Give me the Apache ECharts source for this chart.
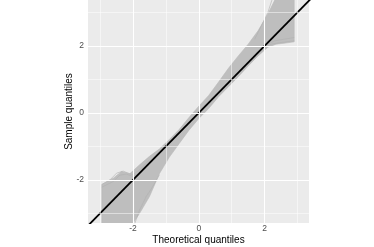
<!DOCTYPE html>
<html>
<head>
<meta charset="utf-8">
<script src="https://cdn.jsdelivr.net/npm/echarts@6/dist/echarts.min.js"></script>
<style>
html, body { margin: 0; padding: 0; background: #fff; }
#main { width: 374px; height: 247px; }
</style>
</head>
<body>
<div id="main"></div>
<script>
var myChart = echarts.init(document.getElementById('main'));

// envelope of the simulated QQ curves
var bandX     = [-2.95, -2.6, -2.35, -2.1, -1.8, -1.5, -1.2, -0.9, -0.6, -0.3, 0, 0.3, 0.6, 0.9, 1.2, 1.5, 1.8, 2.1, 2.35, 2.6, 2.9];
var bandUpper = [-2.14, -1.95, -1.75, -1.82, -1.55, -1.3, -1.08, -0.8, -0.5, -0.14, 0.2, 0.52, 0.92, 1.33, 1.7, 2.05, 2.45, 2.95, 3.45, 3.45, 3.45];
var bandLower = [-3.45, -3.45, -3.45, -3.45, -3.0, -2.5, -1.82, -1.33, -0.92, -0.52, -0.17, 0.13, 0.48, 0.78, 1.08, 1.4, 1.7, 1.96, 2.05, 2.08, 2.12];

// a few individual curves at the band edges
var curves = [
  [[-2.95, -2.14], [-2.7, -2.0], [-2.5, -1.8], [-2.3, -1.74], [-2.15, -1.8], [-2.0, -1.85], [-1.8, -1.7], [-1.5, -1.4]],
  [[-2.95, -2.22], [-2.6, -2.05], [-2.4, -1.86], [-2.2, -1.83], [-2.0, -1.9], [-1.7, -1.72]],
  [[-2.0, -3.45], [-1.8, -2.9], [-1.6, -2.5], [-1.4, -2.2], [-1.2, -1.85]],
  [[1.6, 1.6], [1.9, 1.9], [2.2, 2.05], [2.5, 2.1], [2.9, 2.15]],
  [[1.7, 1.75], [2.0, 2.0], [2.3, 2.15], [2.6, 2.2], [2.9, 2.25]],
  [[1.7, 2.2], [1.9, 2.6], [2.1, 3.0], [2.25, 3.45]]
];

var identity = [[-3.5, -3.5], [3.5, 3.5]];

var majorTicks = [-2, 0, 2];
var minorTicks = [-3, -1, 1, 3];

var xMin = -3.37, xMax = 3.35;
var yMin = -3.29, yMax = 3.37;

var gridLines = [];
majorTicks.forEach(function (v) {
  gridLines.push({ xAxis: v, lineStyle: { width: 1.1 } });
  gridLines.push({ yAxis: v, lineStyle: { width: 1.1 } });
});
minorTicks.forEach(function (v) {
  gridLines.push({ xAxis: v, lineStyle: { width: 0.5 } });
  gridLines.push({ yAxis: v, lineStyle: { width: 0.5 } });
});

function renderBand(params, api) {
  if (params.dataIndex !== 0) return null;
  var pts = [];
  for (var i = 0; i < bandX.length; i++) pts.push(api.coord([bandX[i], bandUpper[i]]));
  for (var j = bandX.length - 1; j >= 0; j--) pts.push(api.coord([bandX[j], bandLower[j]]));
  var cs = params.coordSys;
  return {
    type: 'group',
    clipPath: { type: 'rect', shape: { x: cs.x, y: cs.y, width: cs.width, height: cs.height } },
    children: [{
      type: 'polygon',
      shape: { points: pts },
      style: { fill: '#bebebe', stroke: '#b8b8b8', lineWidth: 0.6 }
    }]
  };
}

var series = [
  {
    type: 'line', data: [], z: 0, silent: true,
    markLine: {
      silent: true, symbol: 'none', label: { show: false },
      lineStyle: { color: '#ffffff', type: 'solid' },
      animation: false,
      data: gridLines
    }
  },
  {
    type: 'custom', z: 1, silent: true,
    renderItem: renderBand,
    data: bandX.map(function (x, i) { return [x, bandLower[i], bandUpper[i]]; })
  }
];

curves.forEach(function (c) {
  series.push({
    type: 'line', symbol: 'none', z: 2,
    lineStyle: { color: '#b0b0b0', width: 0.6 },
    data: c
  });
});

series.push({
  type: 'line', symbol: 'none', z: 3,
  lineStyle: { color: '#000000', width: 1.8 },
  data: identity
});

var option = {
  animation: false,
  backgroundColor: '#ffffff',
  grid: {
    left: 88, right: 65, top: 0, bottom: 24,
    outerBoundsMode: 'none', containLabel: false,
    show: true, backgroundColor: '#ebebeb', borderWidth: 0
  },
  xAxis: {
    type: 'value', min: xMin, max: xMax,
    name: 'Theoretical quantiles', nameLocation: 'middle', nameGap: 12, nameMoveOverlap: false,
    nameTextStyle: { color: '#000', fontSize: 10, fontFamily: 'Liberation Sans' },
    axisLine: { show: false },
    splitLine: { show: false },
    axisTick: { show: true, customValues: majorTicks, length: 3, lineStyle: { color: '#333333', width: 1 } },
    axisLabel: { customValues: majorTicks, color: '#4d4d4d', fontSize: 8.5, margin: 1, fontFamily: 'Liberation Sans' }
  },
  yAxis: {
    type: 'value', min: yMin, max: yMax,
    name: 'Sample quantiles', nameLocation: 'middle', nameGap: 14, nameMoveOverlap: false,
    nameTextStyle: { color: '#000', fontSize: 10, fontFamily: 'Liberation Sans' },
    axisLine: { show: false },
    splitLine: { show: false },
    axisTick: { show: true, customValues: majorTicks, length: 3, lineStyle: { color: '#333333', width: 1 } },
    axisLabel: { customValues: majorTicks, color: '#4d4d4d', fontSize: 8.5, margin: 4, fontFamily: 'Liberation Sans' }
  },
  series: series
};
myChart.setOption(option);
</script>
</body>
</html>
